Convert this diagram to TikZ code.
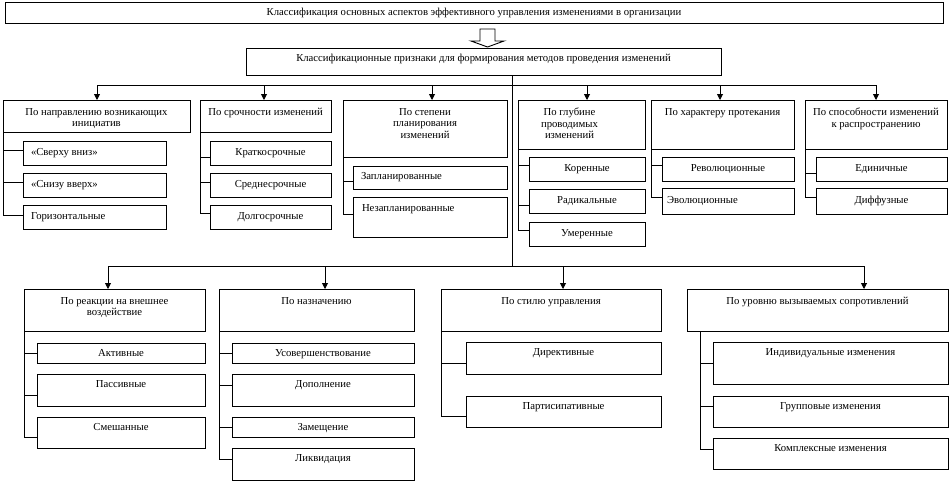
\documentclass[tikz,border=0pt]{standalone}
\usepackage{fontspec}
\setmainfont{Liberation Serif}
\usetikzlibrary{arrows.meta,calc}
\tikzset{
  box/.style={draw, line width=0.9pt, inner sep=0pt, outer sep=0pt},
  txt/.style={inner sep=0pt, outer sep=0pt, font=\fontsize{10.7}{11.5}\selectfont, align=center},
  ln/.style={line width=0.9pt},
  arr/.style={line width=0.9pt, -{Triangle[width=6pt,length=6pt]}},
  tp/.style={at={(#1.north)}, anchor=north, yshift=-8.2pt},
  tq/.style={at={(#1.north)}, anchor=north, yshift=-6.4pt},
  tk/.style={at={(#1.north)}, anchor=north, yshift=-5.6pt},
  tpl/.style={at={(#1.north)}, anchor=north, yshift=-8.2pt, xshift=-12pt},
  cc/.style={at={(#1.center)}},
  lf/.style={at={(#1.west)}, anchor=west, xshift=8pt},
  lf5/.style={at={(#1.west)}, anchor=west, xshift=5pt},
  tl/.style={at={(#1.north west)}, anchor=north west, xshift=9pt, yshift=-7.3pt}
}
\newcommand\bx[7]{%
  \node[box, anchor=north west, minimum width={#4pt-#2pt}, minimum height={#5pt-#3pt}] (#1) at (#2,#3) {};
  \node[txt, #6=#1] (#1t) {#7};}
\newcommand\hk[3]{\draw[ln] (#1) |- ([yshift=#3pt]#2.west);}
\begin{document}
\begin{tikzpicture}[x=1pt, y=-1pt]
\useasboundingbox (0,0) rectangle (949,493);

% top
\bx{t0}{5}{2}{943}{23}{cc}{Классификация основных аспектов эффективного управления изменениями в организации}
\bx{k2}{246}{48}{721}{75}{tk}{Классификационные признаки для формирования методов проведения изменений}

% hollow arrow
\coordinate (ha) at (480,29);
\draw[ln, fill=white] (ha) -- ++(15,0) -- ++(0,12) -- ++(9,0) -- ++(-16.5,6) -- ++(-16.5,-6) -- ++(9,0) -- cycle;

% row 1 headers
\bx{h1}{3}{100}{190}{132}{tp}{По направлению возникающих\\инициатив}
\bx{h2}{200}{100}{331}{132}{tp}{По срочности изменений}
\bx{h3}{343}{100}{507}{157}{tp}{По степени\\планирования\\изменений}
\bx{h4}{518}{100}{645}{149}{tpl}{По глубине\\проводимых\\изменений}
\bx{h5}{651}{100}{794}{149}{tp}{По характеру протекания}
\bx{h6}{805}{100}{947}{149}{tp}{По способности изменений\\к распространению}

% row 1 children
\bx{c11}{23}{141}{166}{165}{lf}{«Сверху вниз»}
\bx{c12}{23}{173}{166}{197}{lf}{«Снизу вверх»}
\bx{c13}{23}{205}{166}{229}{lf}{Горизонтальные}
\bx{c21}{210}{141}{331}{165}{cc}{Краткосрочные}
\bx{c22}{210}{173}{331}{197}{cc}{Среднесрочные}
\bx{c23}{210}{205}{331}{229}{cc}{Долгосрочные}
\bx{c31}{353}{166}{507}{189}{lf}{Запланированные}
\bx{c32}{353}{197}{507}{237}{tl}{Незапланированные}
\bx{c41}{529}{157}{645}{181}{cc}{Коренные}
\bx{c42}{529}{189}{645}{213}{cc}{Радикальные}
\bx{c43}{529}{222}{645}{246}{cc}{Умеренные}
\bx{c51}{662}{157}{794}{181}{cc}{Революционные}
\bx{c52}{662}{188}{794}{214}{lf5}{Эволюционные}
\bx{c61}{816}{157}{947}{181}{cc}{Единичные}
\bx{c62}{816}{188}{947}{214}{cc}{Диффузные}

% row 2 headers
\bx{h7}{24}{289}{205}{331}{tp}{По реакции на внешнее\\воздействие}
\bx{h8}{219}{289}{414}{331}{tp}{По назначению}
\bx{h9}{441}{289}{661}{331}{tp}{По стилю управления}
\bx{h10}{687}{289}{948}{331}{tp}{По уровню вызываемых сопротивлений}

% row 2 children
\bx{c71}{37}{343}{205}{363}{tq}{Активные}
\bx{c72}{37}{374}{205}{406}{tq}{Пассивные}
\bx{c73}{37}{417}{205}{448}{tq}{Смешанные}
\bx{c81}{232}{343}{414}{363}{tq}{Усовершенствование}
\bx{c82}{232}{374}{414}{406}{tq}{Дополнение}
\bx{c83}{232}{417}{414}{437}{tq}{Замещение}
\bx{c84}{232}{448}{414}{480}{tq}{Ликвидация}
\bx{c91}{466}{342}{661}{374}{tq}{Директивные}
\bx{c92}{466}{396}{661}{427}{tq}{Партисипативные}
\bx{c101}{713}{342}{948}{384}{tq}{Индивидуальные изменения}
\bx{c102}{713}{396}{948}{427}{tq}{Групповые изменения}
\bx{c103}{713}{438}{948}{469}{tq}{Комплексные изменения}

% main trunk and buses
\coordinate (vt) at (512,85);
\coordinate (vb) at (512,266);
\draw[ln] (vt |- k2.south) -- (vb);
\coordinate (a1) at (97,85);  \coordinate (a2) at (264,85);
\coordinate (a3) at (432,85); \coordinate (a4) at (587,85);
\coordinate (a5) at (720,85); \coordinate (a6) at (876,85);
\draw[ln] (a1) -- (a6);
\draw[arr] (a1) -- (a1 |- h1.north);
\draw[arr] (a2) -- (a2 |- h2.north);
\draw[arr] (a3) -- (a3 |- h3.north);
\draw[arr] (a4) -- (a4 |- h4.north);
\draw[arr] (a5) -- (a5 |- h5.north);
\draw[arr] (a6) -- (a6 |- h6.north);
\coordinate (b7) at (108,266);  \coordinate (b8) at (325,266);
\coordinate (b9) at (563,266);  \coordinate (b10) at (864,266);
\draw[ln] (b7) -- (b10);
\draw[arr] (b7) -- (b7 |- h7.north);
\draw[arr] (b8) -- (b8 |- h8.north);
\draw[arr] (b9) -- (b9 |- h9.north);
\draw[arr] (b10) -- (b10 |- h10.north);

% tree hooks
\hk{h1.south west}{c11}{3}  \hk{h1.south west}{c12}{3}  \hk{h1.south west}{c13}{2}
\hk{h2.south west}{c21}{-4} \hk{h2.south west}{c22}{3}  \hk{h2.south west}{c23}{4}
\hk{h3.south west}{c31}{-3.5} \hk{h3.south west}{c32}{3}
\hk{h4.south west}{c41}{4}  \hk{h4.south west}{c42}{-4} \hk{h4.south west}{c43}{4}
\hk{h5.south west}{c51}{4}  \hk{h5.south west}{c52}{4}
\hk{h6.south west}{c61}{-4} \hk{h6.south west}{c62}{4}
\hk{h7.south west}{c71}{0}  \hk{h7.south west}{c72}{-5} \hk{h7.south west}{c73}{-4.5}
\hk{h8.south west}{c81}{0}  \hk{h8.south west}{c82}{5}  \hk{h8.south west}{c83}{0} \hk{h8.south west}{c84}{5}
\hk{h9.south west}{c91}{-5} \hk{h9.south west}{c92}{-4.5}
\coordinate (s10) at ([xshift=13pt]h10.south west);
\hk{s10}{c101}{0} \hk{s10}{c102}{5.5} \hk{s10}{c103}{4.5}
\end{tikzpicture}
\end{document}
